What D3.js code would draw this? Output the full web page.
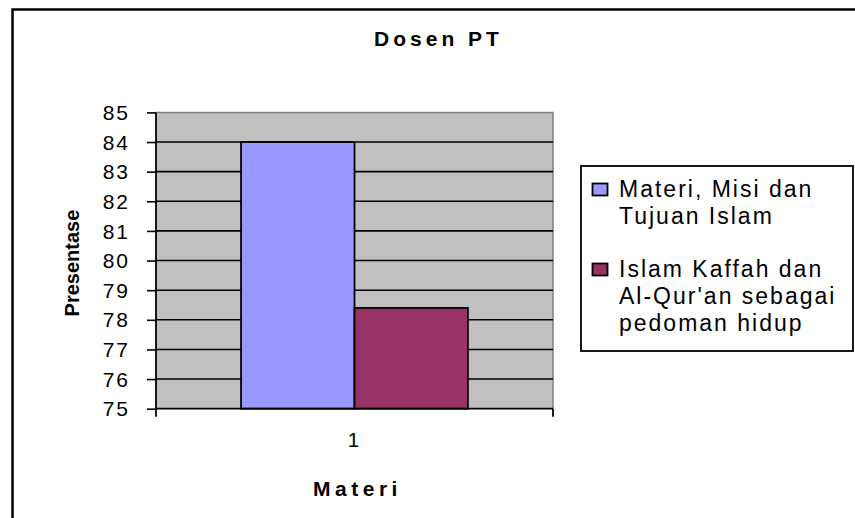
<!DOCTYPE html>
<html><head><meta charset="utf-8">
<script src="https://cdn.jsdelivr.net/npm/d3@7"></script>
<style>body{margin:0;background:#fff}svg{display:block}</style>
</head><body><svg id="c" width="855" height="518"></svg>
<script>
const categories = ["1"];
const seriesNames = ["Materi, Misi dan Tujuan Islam", "Islam Kaffah dan Al-Qur'an sebagai pedoman hidup"];
const seriesValues = [84, 78.4];
const seriesColors = ["#9999FF", "#993366"];
const yTicks = [75,76,77,78,79,80,81,82,83,84,85];
const legendLines = [["Materi, Misi dan","Tujuan Islam"],["Islam Kaffah dan","Al-Qur'an sebagai","pedoman hidup"]];

const svg = d3.select("#c");
const F = "'Liberation Sans', Arial, sans-serif";
// outer chart border
svg.append("rect").attr("x",12.5).attr("y",9.5).attr("width",900).attr("height",600)
  .attr("fill","#fff").attr("stroke","#000").attr("stroke-width",2.5);

const L=156, R=553, T=112.4, B=408.7;
const y = d3.scaleLinear().domain([75,85]).range([B,T]);
const x0 = d3.scaleBand().domain(categories).range([L,R]).paddingInner(0).paddingOuter(0.375);
const x1 = d3.scaleBand().domain(seriesNames).range([0,x0.bandwidth()]);

svg.append("rect").attr("x",L).attr("y",T).attr("width",R-L).attr("height",B-T).attr("fill","#C0C0C0");
svg.append("path").attr("d",`M${L},${T}H${R}V${B}`).attr("fill","none").attr("stroke","#808080").attr("stroke-width",1.5);
// gridlines
svg.append("g").selectAll("line").data(yTicks.filter(d=>d>75&&d<85)).join("line")
  .attr("x1",L).attr("x2",R).attr("y1",d=>y(d)).attr("y2",d=>y(d)).attr("stroke","#000").attr("stroke-width",1.6);

// bars
const g = svg.append("g");
categories.forEach(c=>{
  seriesNames.forEach((s,i)=>{
    g.append("rect").attr("x",x0(c)+x1(s)).attr("y",y(seriesValues[i]))
     .attr("width",x1.bandwidth()).attr("height",B-y(seriesValues[i]))
     .attr("fill",seriesColors[i]).attr("stroke","#000").attr("stroke-width",1.8);
  });
});

// y axis
const ya = svg.append("g").attr("transform",`translate(${L},0)`)
  .call(d3.axisLeft(y).tickValues(yTicks).tickSize(9).tickFormat(d3.format("d")));
ya.select(".domain").attr("stroke","#000").attr("stroke-width",1.8).attr("d",`M0,${T}V${B+1}`);
ya.selectAll(".tick line").attr("stroke","#000").attr("stroke-width",1.6);
ya.selectAll("text").attr("x",-26).attr("dy","0.34em").attr("font-family",F).attr("font-size",21)
  .attr("letter-spacing",2).attr("fill","#000");

// x axis
const xa = svg.append("g").attr("transform",`translate(0,${B})`)
  .call(d3.axisBottom(x0).tickSize(0));
xa.select(".domain").remove();
xa.selectAll("text").attr("y",38).attr("dy",0).attr("x",-1).attr("font-family",F).attr("font-size",20.5).attr("fill","#000");
svg.append("line").attr("x1",L).attr("x2",R).attr("y1",B).attr("y2",B).attr("stroke","#000").attr("stroke-width",1.8);
[L,R].forEach(px=>svg.append("line").attr("x1",px).attr("x2",px).attr("y1",B).attr("y2",B+8).attr("stroke","#000").attr("stroke-width",1.8));

// titles
svg.append("text").attr("x",436.5+2).attr("y",46).attr("text-anchor","middle")
  .attr("font-family",F).attr("font-weight","bold").attr("font-size",21).attr("letter-spacing",4).text("Dosen PT");
svg.append("text").attr("x",355.3+2.2).attr("y",496).attr("text-anchor","middle")
  .attr("font-family",F).attr("font-weight","bold").attr("font-size",21).attr("letter-spacing",4.5).text("Materi");
svg.append("text").attr("transform","translate(79,263) rotate(-90)").attr("text-anchor","middle")
  .attr("font-family",F).attr("font-weight","bold").attr("font-size",20).text("Presentase");

// legend
const lg = svg.append("g");
lg.append("rect").attr("x",581).attr("y",166).attr("width",272).attr("height",185).attr("fill","#fff").attr("stroke","#000").attr("stroke-width",1.8);
const itemY = [197, 277];
legendLines.forEach((lines,i)=>{
  lg.append("rect").attr("x",592.5).attr("y",itemY[i]-13.5).attr("width",15).attr("height",12)
    .attr("fill",seriesColors[i]).attr("stroke","#000").attr("stroke-width",1.8);
  lines.forEach((t,j)=>lg.append("text").attr("x",619).attr("y",itemY[i]+j*27)
    .attr("font-family",F).attr("font-size",23).attr("letter-spacing",2).attr("fill","#000").text(t));
});
</script></body></html>
